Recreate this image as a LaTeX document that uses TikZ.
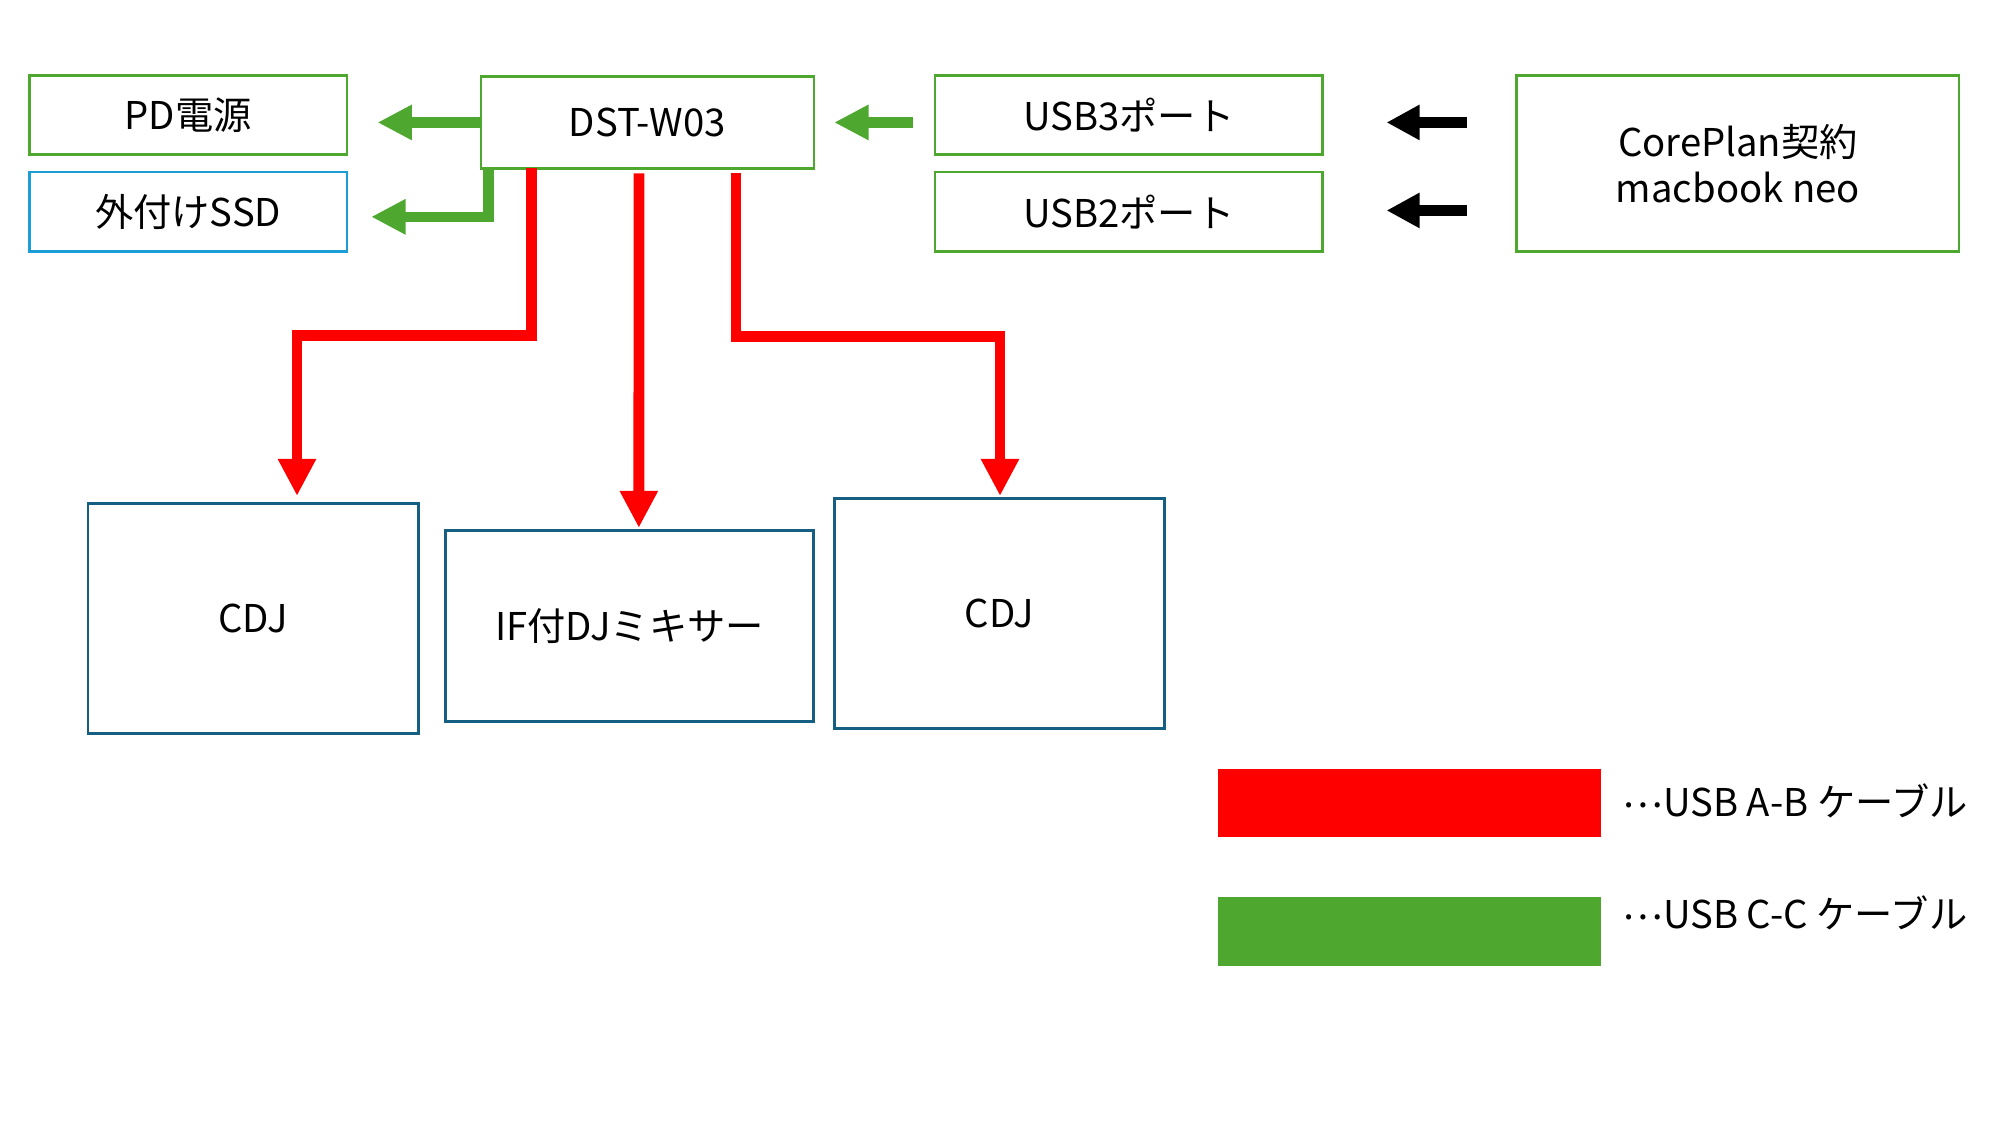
\documentclass[tikz,border=0pt]{standalone}
\usepackage{fontspec}
\setmainfont{Noto Sans CJK JP}
\usetikzlibrary{arrows.meta,calc}
\definecolor{boxgreen}{HTML}{4EA72E}
\definecolor{boxblue}{HTML}{1C9DD8}
\definecolor{boxdark}{HTML}{156082}
\definecolor{cabred}{HTML}{FF0000}
\tikzset{
  base/.style={rectangle,inner sep=0pt,font=\fontsize{30}{36}\selectfont,text=black},
  gbox/.style={base,draw=boxgreen,line width=2pt},
  bbox/.style={base,draw=boxblue,line width=2pt},
  dbox/.style={base,draw=boxdark,line width=2.3pt},
  garr/.style={draw=boxgreen,line width=8pt,line join=miter,-{Triangle[length=27pt,width=26pt]}},
  karr/.style={draw=black,line width=9pt,-{Triangle[length=26pt,width=26pt]}},
  rarr/.style={draw=cabred,line width=8.5pt,line join=miter,-{Triangle[length=29pt,width=28pt]}},
  legtext/.style={base,anchor=west}
}
\newcommand{\midell}{\raisebox{7pt}{…}}
\begin{document}
\begin{tikzpicture}[x=1pt,y=-1pt]
\useasboundingbox (0,0) rectangle (1568,882);
% boxes
\node[gbox,minimum width=249pt,minimum height=62pt] (pd) at (147.5,90) {PD電源};
\node[bbox,minimum width=249pt,minimum height=62pt] (ssd) at (147.5,166) {外付けSSD};
\node[gbox,minimum width=261pt,minimum height=72pt] (dst) at (507.5,96) {DST-W03};
\node[gbox,minimum width=304pt,minimum height=62pt] (usb3) at (885,90) {USB3ポート};
\node[gbox,minimum width=304pt,minimum height=62pt] (usb2) at (885,166) {USB2ポート};
\node[gbox,minimum width=347pt,minimum height=138pt,align=center] (mac) at (1362.5,128) {CorePlan契約\\macbook neo};
\node[dbox,minimum width=259pt,minimum height=180pt] (cdj1) at (198.5,485) {CDJ};
\node[dbox,minimum width=289pt,minimum height=150pt] (mix) at (493.5,491) {IF付DJミキサー};
\node[dbox,minimum width=259pt,minimum height=180pt] (cdj2) at (783.5,481) {CDJ};
% legend
\node[base,fill=cabred,minimum width=300pt,minimum height=53pt] (legr) at (1105,629.5) {};
\node[base,fill=boxgreen,minimum width=300pt,minimum height=54pt] (legg) at (1105,730) {};
\node[legtext] (legrt) at (1272,628) {\midell USB A-B ケーブル};
\node[legtext] (leggt) at (1272,716) {\midell USB C-C ケーブル};
% green connectors
\draw[garr] (dst.west) -- ($(pd.east |- dst.west)+(23,0)$);
\draw[garr] ($(dst.south west)+(7,-2)$) |- ($(ssd.east)+(18,4)$);
\draw[garr] ($(usb3.west |- dst.east)+(-16,0)$) -- ($(dst.east)+(15,0)$);
% black connectors
\draw[karr] ($(mac.west |- usb3.east)+(-38,6)$) -- ($(usb3.east)+(49,6)$);
\draw[karr] ($(mac.west |- usb2.east)+(-38,-1)$) -- ($(usb2.east)+(49,-1)$);
% red connectors
\draw[rarr] ($(dst.south west)+(41,-1)$) -- ++(0,131) -| ($(cdj1.north west)+(165,-5)$);
\draw[rarr] ($(dst.south west)+(125,3)$) -- ($(mix.north west)+(153,-1)$);
\draw[rarr] ($(dst.south west)+(201,3)$) -- ++(0,128) -| ($(cdj2.north)+(0.5,-1)$);
\end{tikzpicture}
\end{document}
